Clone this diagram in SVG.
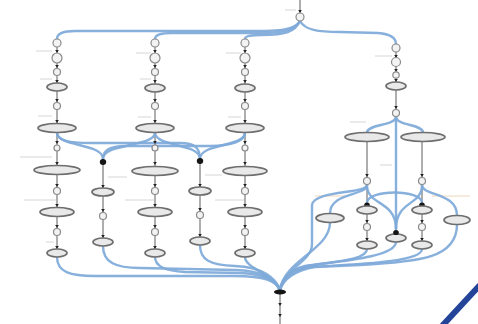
<svg xmlns="http://www.w3.org/2000/svg" xmlns:xlink="http://www.w3.org/1999/xlink" width="478" height="324" viewBox="0 0 478 324">
<style>
.bg{fill:#ffffff}
.vl{stroke:#4a4a4a;stroke-width:0.9;fill:none}
.c{fill:none;stroke:#7ea9d9;stroke-width:2.4;stroke-linecap:round;opacity:0.92}
.ch{fill:none;stroke:#c9dcef;stroke-width:4.2;stroke-linecap:round}
.el{fill:#e9e9e9;stroke:#6e6e6e;stroke-width:1.7}
.sc{fill:#f3f3f3;stroke:#8a8a8a;stroke-width:1.2}
.bk{fill:#151515}
.lbl{stroke:#b8b8b8;stroke-width:0.8;opacity:0.7}
</style>
<defs>
<path id="ah" d="M-1.8,-3 L1.8,-3 L0,0 Z" fill="#222"/>
</defs>
<rect class="bg" x="0" y="0" width="478" height="324"/>

<!-- vertical flow lines -->
<g id="flowlines">
<line class="vl" x1="300" y1="0" x2="300" y2="21"/>
<line class="vl" x1="57" y1="39" x2="57" y2="257"/>
<line class="vl" x1="155" y1="39" x2="155" y2="257"/>
<line class="vl" x1="245" y1="39" x2="245" y2="257"/>
<line class="vl" x1="103" y1="160" x2="103" y2="246"/>
<line class="vl" x1="200" y1="160" x2="200" y2="245"/>
<line class="vl" x1="396" y1="44" x2="396" y2="116"/>
<line class="vl" x1="367" y1="141" x2="367" y2="249"/>
<line class="vl" x1="422" y1="141" x2="422" y2="249"/>
<line class="vl" x1="280" y1="291" x2="280" y2="324"/>
</g>

<!-- faint label marks -->
<g id="labels">
<line class="lbl" x1="36" y1="51" x2="52" y2="51"/>
<line class="lbl" x1="40" y1="79" x2="52" y2="79"/>
<line class="lbl" x1="38" y1="116" x2="52" y2="116"/>
<line class="lbl" x1="20" y1="157" x2="52" y2="157"/>
<line class="lbl" x1="24" y1="200" x2="56" y2="200"/>
<line class="lbl" x1="46" y1="242" x2="54" y2="242"/>
<line class="lbl" x1="136" y1="53" x2="151" y2="53"/>
<line class="lbl" x1="140" y1="79" x2="151" y2="79"/>
<line class="lbl" x1="138" y1="117" x2="151" y2="117"/>
<line class="lbl" x1="125" y1="200" x2="154" y2="200"/>
<line class="lbl" x1="108" y1="177" x2="127" y2="177"/>
<line class="lbl" x1="205" y1="175" x2="222" y2="175"/>
<line class="lbl" x1="226" y1="53" x2="241" y2="53"/>
<line class="lbl" x1="228" y1="117" x2="241" y2="117"/>
<line class="lbl" x1="215" y1="200" x2="244" y2="200"/>
<line class="lbl" x1="285" y1="10" x2="296" y2="10"/>
<line class="lbl" x1="375" y1="56" x2="392" y2="56"/>
<line class="lbl" x1="350" y1="122" x2="366" y2="122"/>
<line class="lbl" x1="315" y1="196" x2="345" y2="196" style="stroke:#e0b98a"/>
<line class="lbl" x1="432" y1="196" x2="470" y2="196" style="stroke:#e0b98a"/>
<line class="lbl" x1="380" y1="165" x2="392" y2="165"/>
</g>

<!-- connectors -->
<g id="connectors">
<g id="conn-top">
<path class="c" d="M300,21 C295,30 280,31 250,31 L75,31 C62,31 57,34 57,39"/>
<path class="c" d="M300,21 C295,31 282,33 255,33 L172,33 C160,33 155,35 155,39"/>
<path class="c" d="M300,21 C295,32 285,35 262,35 C250,35 245,36 245,39"/>
<path class="c" d="M300,21 C305,30 318,32 340,32 L378,33 C390,34 396,38 396,44"/>
</g>
<g id="conn-mid">
<path class="c" d="M57,132.5 C57,147 103,143 103,159"/>
<path class="c" d="M57,132.5 C57,141 70,143 90,143 L180,143 C195,143 200,148 200,159"/>
<path class="c" d="M155,132.5 C155,147 103,143 103,159"/>
<path class="c" d="M155,132.5 C155,147 200,143 200,159"/>
<path class="c" d="M245,132.5 C245,141 232,146 210,146 L125,146 C110,146 103,150 103,159"/>
<path class="c" d="M245,132.5 C245,147 200,143 200,159"/>
</g>
<g id="conn-right">
<path class="c" d="M396,116.5 C396,126 367,124 367,132.5"/>
<path class="c" d="M396,116.5 C396,126 423,124 423,132.5"/>
<path class="c" d="M396,117 L396,229"/>
<path class="c" d="M367,185 C367,196 330,192 330,213.5"/>
<path class="c" d="M367,185 C367,194 314,190 312,205 L312,244 C312,262 284,268 280,290"/>
<path class="c" d="M367,185 C367,206 396,200 396,229"/>
<path class="c" d="M422,185 C422,206 396,200 396,229"/>
<path class="c" d="M367,203 C367,189 422,189 422,203"/>
<path class="c" d="M422,185 C422,196 457,192 457,215.5"/>
</g>
<g id="conn-bottom">
<path class="c" d="M57,257 C57,272 70,276 95,276 L235,276 C265,276 276,281 280,290"/>
<path class="c" d="M103,246 C103,262 115,268 140,268 L235,270 C265,271 276,280 280,290"/>
<path class="c" d="M155,257 C155,266 165,271 185,272 L240,273 C265,274 276,281 280,290"/>
<path class="c" d="M200,245 C200,260 210,265 235,266 C262,267 276,278 280,290"/>
<path class="c" d="M245,257 C245,268 270,272 280,290"/>
<path class="c" d="M330,222.5 C330,250 284,260 280,290"/>
<path class="c" d="M367,249 C367,262 320,262 300,268 C288,272 282,280 280,290"/>
<path class="c" d="M396,242 C396,258 330,262 305,266 C290,270 282,280 280,290"/>
<path class="c" d="M422,249 C422,262 360,264 310,267 C292,270 283,280 280,290"/>
<path class="c" d="M457,224.5 C457,258 420,262 360,265 L315,267 C295,270 283,280 280,290"/>
</g>
</g>

<!-- arrowheads -->
<g id="arrows">
<use xlink:href="#ah" x="300" y="13"/>
<use xlink:href="#ah" x="57" y="53"/><use xlink:href="#ah" x="57" y="68"/><use xlink:href="#ah" x="57" y="83"/><use xlink:href="#ah" x="57" y="102"/><use xlink:href="#ah" x="57" y="123"/><use xlink:href="#ah" x="57" y="144"/><use xlink:href="#ah" x="57" y="165"/><use xlink:href="#ah" x="57" y="187"/><use xlink:href="#ah" x="57" y="207"/><use xlink:href="#ah" x="57" y="228"/><use xlink:href="#ah" x="57" y="249"/>
<use xlink:href="#ah" x="155" y="53"/><use xlink:href="#ah" x="155" y="68"/><use xlink:href="#ah" x="155" y="83"/><use xlink:href="#ah" x="155" y="102"/><use xlink:href="#ah" x="155" y="123"/><use xlink:href="#ah" x="155" y="144"/><use xlink:href="#ah" x="155" y="165"/><use xlink:href="#ah" x="155" y="187"/><use xlink:href="#ah" x="155" y="207"/><use xlink:href="#ah" x="155" y="228"/><use xlink:href="#ah" x="155" y="249"/>
<use xlink:href="#ah" x="245" y="53"/><use xlink:href="#ah" x="245" y="68"/><use xlink:href="#ah" x="245" y="83"/><use xlink:href="#ah" x="245" y="102"/><use xlink:href="#ah" x="245" y="123"/><use xlink:href="#ah" x="245" y="144"/><use xlink:href="#ah" x="245" y="165"/><use xlink:href="#ah" x="245" y="187"/><use xlink:href="#ah" x="245" y="207"/><use xlink:href="#ah" x="245" y="228"/><use xlink:href="#ah" x="245" y="249"/>
<use xlink:href="#ah" x="103" y="188"/><use xlink:href="#ah" x="103" y="212"/><use xlink:href="#ah" x="103" y="238"/>
<use xlink:href="#ah" x="200" y="187"/><use xlink:href="#ah" x="200" y="211"/><use xlink:href="#ah" x="200" y="237"/>
<use xlink:href="#ah" x="396" y="58"/><use xlink:href="#ah" x="396" y="72"/><use xlink:href="#ah" x="396" y="82"/><use xlink:href="#ah" x="396" y="109"/>
<use xlink:href="#ah" x="367" y="177"/><use xlink:href="#ah" x="367" y="223"/><use xlink:href="#ah" x="367" y="241"/>
<use xlink:href="#ah" x="422" y="177"/><use xlink:href="#ah" x="422" y="223"/><use xlink:href="#ah" x="422" y="241"/>
<use xlink:href="#ah" x="280" y="306"/><use xlink:href="#ah" x="280" y="317"/>
</g>

<!-- nodes -->
<g id="node-top"><circle class="sc" cx="300" cy="17" r="4"/></g>

<g id="col-a">
<g id="a1"><circle class="sc" cx="57" cy="43" r="4"/></g>
<g id="a2"><circle class="sc" cx="57" cy="58" r="5"/></g>
<g id="a3"><circle class="sc" cx="57" cy="72" r="3.5"/></g>
<g id="a4"><ellipse class="el" cx="57" cy="87" rx="10" ry="4"/></g>
<g id="a5"><circle class="sc" cx="57" cy="106" r="3.5"/></g>
<g id="a6"><ellipse class="el" cx="57" cy="128" rx="19" ry="4.5"/></g>
<g id="a7"><circle class="sc" cx="57" cy="148" r="3"/></g>
<g id="a8"><ellipse class="el" cx="57" cy="170" rx="23" ry="4.5"/></g>
<g id="a9"><circle class="sc" cx="57" cy="191" r="3.5"/></g>
<g id="a10"><ellipse class="el" cx="57" cy="212" rx="17" ry="4.5"/></g>
<g id="a11"><circle class="sc" cx="57" cy="232" r="3.5"/></g>
<g id="a12"><ellipse class="el" cx="57" cy="253" rx="10" ry="4"/></g>
</g>

<g id="col-b">
<g id="b1"><circle class="sc" cx="155" cy="43" r="4"/></g>
<g id="b2"><circle class="sc" cx="155" cy="58" r="5"/></g>
<g id="b3"><circle class="sc" cx="155" cy="72" r="3.5"/></g>
<g id="b4"><ellipse class="el" cx="155" cy="88" rx="10" ry="4"/></g>
<g id="b5"><circle class="sc" cx="155" cy="106" r="3.5"/></g>
<g id="b6"><ellipse class="el" cx="155" cy="128" rx="19" ry="4.5"/></g>
<g id="b7"><circle class="sc" cx="155" cy="148" r="3"/></g>
<g id="b8"><ellipse class="el" cx="155" cy="171" rx="23" ry="4.5"/></g>
<g id="b9"><circle class="sc" cx="155" cy="191" r="3.5"/></g>
<g id="b10"><ellipse class="el" cx="155" cy="212" rx="17" ry="4.5"/></g>
<g id="b11"><circle class="sc" cx="155" cy="232" r="3.5"/></g>
<g id="b12"><ellipse class="el" cx="155" cy="253" rx="10" ry="4"/></g>
</g>

<g id="col-c">
<g id="c1"><circle class="sc" cx="245" cy="43" r="4"/></g>
<g id="c2"><circle class="sc" cx="245" cy="58" r="5"/></g>
<g id="c3"><circle class="sc" cx="245" cy="72" r="3.5"/></g>
<g id="c4"><ellipse class="el" cx="245" cy="88" rx="10" ry="4"/></g>
<g id="c5"><circle class="sc" cx="245" cy="106" r="3.5"/></g>
<g id="c6"><ellipse class="el" cx="245" cy="128" rx="19" ry="4.5"/></g>
<g id="c7"><circle class="sc" cx="245" cy="148" r="3"/></g>
<g id="c8"><ellipse class="el" cx="245" cy="171" rx="22" ry="4.5"/></g>
<g id="c9"><circle class="sc" cx="245" cy="191" r="3.5"/></g>
<g id="c10"><ellipse class="el" cx="245" cy="212" rx="17" ry="4.5"/></g>
<g id="c11"><circle class="sc" cx="245" cy="232" r="3.5"/></g>
<g id="c12"><ellipse class="el" cx="245" cy="253" rx="10" ry="4"/></g>
</g>

<g id="col-d">
<g id="d1"><ellipse class="bk" cx="103" cy="162" rx="3.2" ry="3"/></g>
<g id="d2"><ellipse class="el" cx="103" cy="192" rx="11" ry="4"/></g>
<g id="d3"><circle class="sc" cx="103" cy="216" r="3.5"/></g>
<g id="d4"><ellipse class="el" cx="103" cy="242" rx="10" ry="4"/></g>
</g>

<g id="col-e">
<g id="e1"><ellipse class="bk" cx="200" cy="161" rx="3.2" ry="3"/></g>
<g id="e2"><ellipse class="el" cx="200" cy="191" rx="11" ry="4"/></g>
<g id="e3"><circle class="sc" cx="200" cy="215" r="3.5"/></g>
<g id="e4"><ellipse class="el" cx="200" cy="241" rx="10" ry="4"/></g>
</g>

<g id="col-f">
<g id="f1"><circle class="sc" cx="396" cy="48" r="4"/></g>
<g id="f2"><circle class="sc" cx="396" cy="62" r="4.5"/></g>
<g id="f3"><circle class="sc" cx="396" cy="75" r="3.2"/></g>
<g id="f4"><ellipse class="el" cx="396" cy="86" rx="10" ry="4"/></g>
<g id="f5"><circle class="sc" cx="396" cy="113" r="3.5"/></g>
</g>

<g id="g1"><ellipse class="el" cx="367" cy="137" rx="22" ry="4.5"/></g>
<g id="g2"><ellipse class="el" cx="423" cy="137" rx="22" ry="4.5"/></g>

<g id="col-h">
<g id="h1"><circle class="sc" cx="367" cy="181" r="3.5"/></g>
<g id="h2"><ellipse class="bk" cx="367" cy="205" rx="2.8" ry="2.6"/></g>
<g id="h3"><ellipse class="el" cx="367" cy="210" rx="10" ry="4"/></g>
<g id="h4"><circle class="sc" cx="367" cy="227" r="3.5"/></g>
<g id="h5"><ellipse class="el" cx="367" cy="245" rx="10" ry="4"/></g>
</g>

<g id="col-i">
<g id="i1"><circle class="sc" cx="422" cy="181" r="3.5"/></g>
<g id="i2"><ellipse class="bk" cx="422" cy="205" rx="2.8" ry="2.6"/></g>
<g id="i3"><ellipse class="el" cx="422" cy="210" rx="10" ry="4"/></g>
<g id="i4"><circle class="sc" cx="422" cy="227" r="3.5"/></g>
<g id="i5"><ellipse class="el" cx="422" cy="245" rx="10" ry="4"/></g>
</g>

<g id="center-join">
<ellipse class="el" cx="396" cy="238" rx="10" ry="4"/>
<ellipse class="bk" cx="396" cy="232.5" rx="2.8" ry="2.6"/>
</g>
<g id="side-left"><ellipse class="el" cx="330" cy="218" rx="14" ry="4.5"/></g>
<g id="side-right"><ellipse class="el" cx="457" cy="220" rx="13" ry="4.5"/></g>

<g id="hub"><ellipse class="bk" cx="280" cy="292" rx="6" ry="2.6"/></g>

<!-- corner stroke -->
<line x1="442" y1="326" x2="480" y2="285" stroke="#24449a" stroke-width="6"/>
</svg>
